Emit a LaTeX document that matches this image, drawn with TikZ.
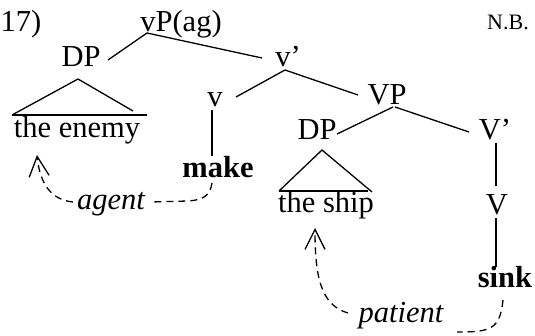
\documentclass[tikz,border=0pt]{standalone}
\usepackage{fontspec}
\setmainfont{Liberation Serif}
\usetikzlibrary{arrows.meta}
\tikzset{
  lbl/.style={inner sep=0pt, anchor=base, font=\fontsize{30.5}{36}\selectfont},
  small/.style={inner sep=0pt, anchor=base, font=\fontsize{22}{26}\selectfont},
  branch/.style={line width=1.3pt},
  role/.style={line width=1.3pt, dash pattern=on 7pt off 5pt},
  roletip/.style={role, -{Straight Barb[length=20pt,width=20pt,line width=1.3pt]}}
}
\begin{document}
\begin{tikzpicture}[x=1pt,y=-1pt]
\useasboundingbox (0,0) rectangle (535,336);
% nodes
\node[lbl] (num) at (21,32) {17)};
\node[lbl] (vP) at (181,32) {vP(ag)};
\node[small] (nb) at (508,30) {N.B.};
\node[lbl] (dp1) at (81,67) {DP};
\node[lbl] (vbar) at (288,67) {v’};
\node[lbl] (v) at (215,107) {v};
\node[lbl] (vp) at (387,105) {VP};
\node[lbl] (enemy) at (77,138) {the enemy};
\node[lbl] (make) at (218,178) {\bfseries make};
\node[lbl] (agent) at (111,210) {\itshape agent};
\node[lbl] (dp2) at (317,140) {DP};
\node[lbl] (vbar2) at (495,140) {V’};
\node[lbl] (ship) at (326,213) {the ship};
\node[lbl] (V) at (497,215) {V};
\node[lbl] (sink) at (505,288) {\bfseries sink};
\node[lbl] (patient) at (401,323) {\itshape patient};
% branches
\draw[branch] ([shift={(-34,1)}]vP.base) -- ([shift={(27,-7)}]dp1.base);
\draw[branch] ([shift={(-34,1)}]vP.base) -- ([shift={(-26,-9)}]vbar.base);
\draw[branch] ([shift={(-3,3)}]vbar.base) -- ([shift={(21,-10)}]v.base);
\draw[branch] ([shift={(-3,3)}]vbar.base) -- ([shift={(-29,-10)}]vp.base);
\draw[branch] ([shift={(6,2)}]vp.base) -- ([shift={(20,-6)}]dp2.base);
\draw[branch] ([shift={(8,2)}]vp.base) -- ([shift={(-26,-8)}]vbar2.base);
\draw[branch] ([shift={(1,3)}]vbar2.base) -- ([shift={(-1,-29)}]V.base);
\draw[branch] ([shift={(-1,3)}]V.base) -- ([shift={(-9,-21)}]sink.base);
\draw[branch] ([shift={(-3,3)}]v.base) -- ([shift={(-6,-22)}]make.base);
% triangles
\draw[branch] ([shift={(-65,-23)}]enemy.base) -- ([shift={(-3,12)}]dp1.base) -- ([shift={(56,-27)}]enemy.base);
\draw[branch] ([shift={(-65,-23)}]enemy.base) -- ([shift={(70,-23)}]enemy.base);
\draw[branch] ([shift={(-47,-22)}]ship.base) -- ([shift={(5,10)}]dp2.base) -- ([shift={(46,-21)}]ship.base);
\draw[branch] ([shift={(-47,-22)}]ship.base) -- ([shift={(42,-22)}]ship.base);
% role arrows
\draw[role] ([shift={(-6,5)}]make.base) .. controls (210,196) and (203,200) .. (188,201) -- ([shift={(40,-8)}]agent.base);
\draw[roletip] ([shift={(-38,-8)}]agent.base) .. controls (52,200) and (40,185) .. ([shift={(-40,17)}]enemy.base);
\draw[role] ([shift={(-2,12)}]sink.base) .. controls (500,330) and (490,332) .. ([shift={(56,9)}]patient.base);
\draw[roletip] ([shift={(-53,-10)}]patient.base) .. controls (320,305) and (315,275) .. ([shift={(-11,15)}]ship.base);
\end{tikzpicture}
\end{document}
